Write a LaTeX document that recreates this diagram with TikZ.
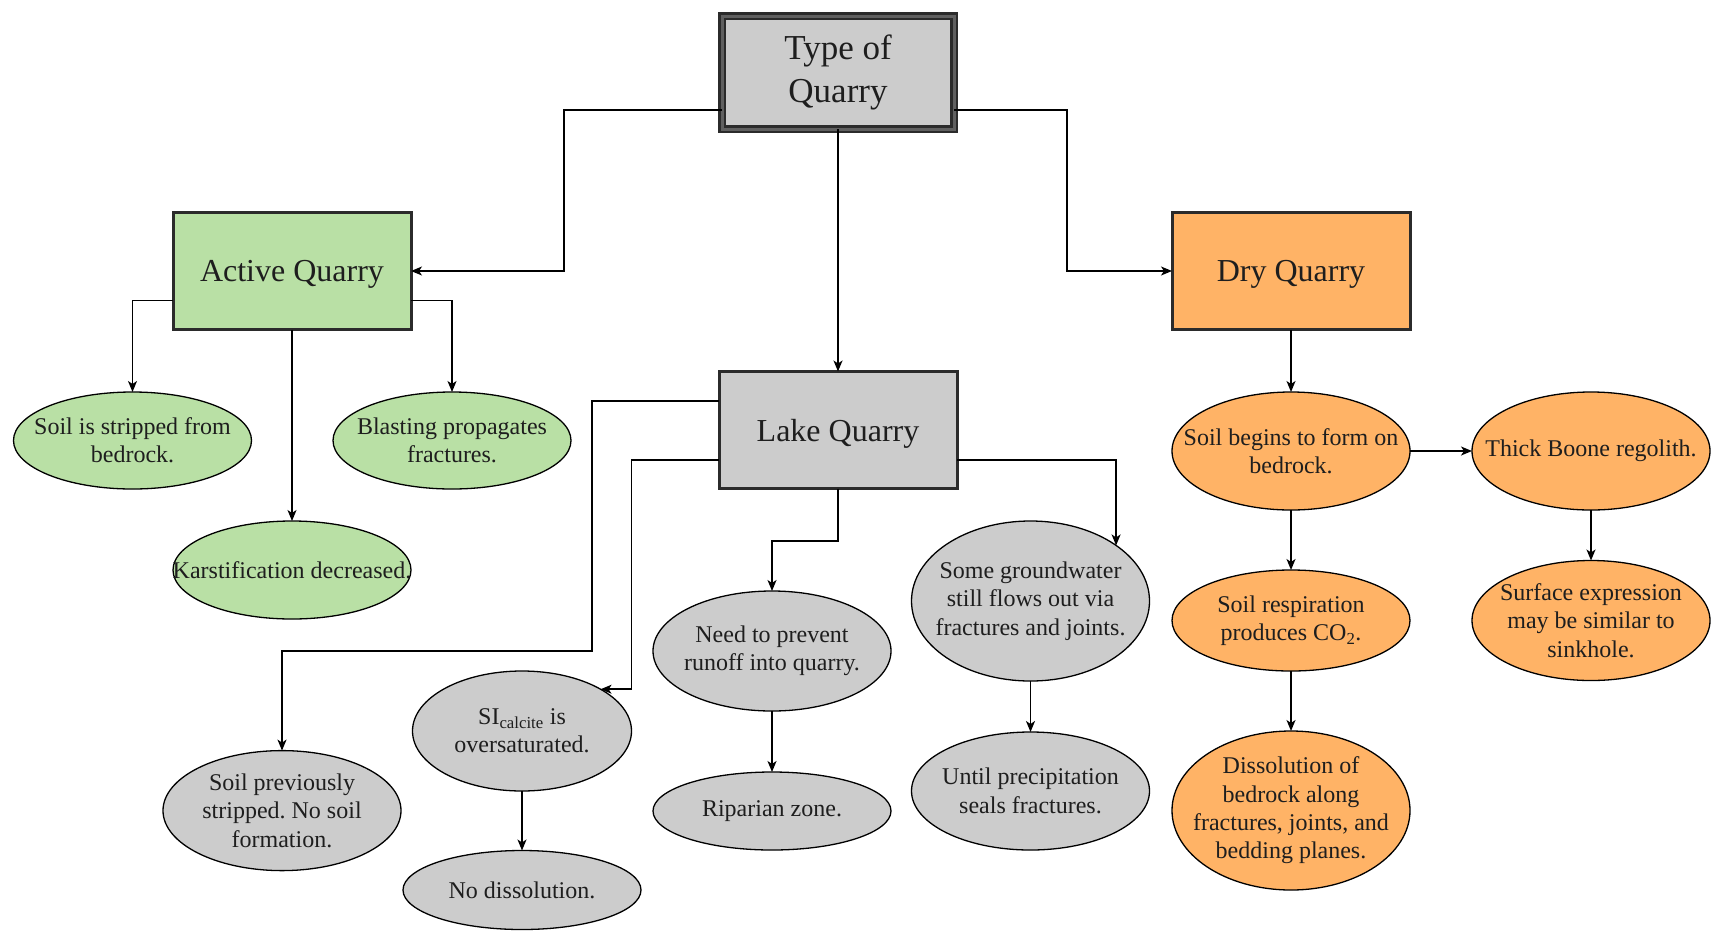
\documentclass[tikz,border=0pt]{standalone}
\usepackage{fontspec}
\setmainfont{Liberation Serif}
\usetikzlibrary{shapes.geometric,arrows.meta}
\definecolor{gfill}{HTML}{B9E0A5}
\definecolor{ofill}{HTML}{FFB366}
\definecolor{rfill}{HTML}{CCCCCC}
\definecolor{bord}{HTML}{2B2B2B}
\definecolor{txtc}{HTML}{1E1E1E}
\frenchspacing
\tikzset{
  lbl/.style={align=center, inner sep=0pt, text=txtc, font=\fontsize{24}{28.4}\selectfont},
  oval/.style={ellipse, draw=black, line width=1.3pt, minimum width=238pt, inner sep=0pt, outer sep=0pt, minimum height=#1},
  ovG/.style={oval=#1, fill=gfill},
  ovO/.style={oval=#1, fill=ofill},
  ovR/.style={oval=#1, fill=rfill},
  box/.style={rectangle, draw=bord, line width=3pt, minimum width=238pt, minimum height=117pt, inner sep=0pt, outer sep=0pt, text=txtc, text depth=0pt, font=\fontsize{32}{38}\selectfont},
  arr/.style={draw=black, line width=1.5pt, -{Stealth[length=11pt,width=9pt,inset=3pt]}},
}
\begin{document}
\begin{tikzpicture}[x=1pt,y=-1pt]
\useasboundingbox (0,0) rectangle (1713,930);
\fill[white] (0,0) rectangle (1713,930);

% main boxes
\node[rectangle, draw=bord, line width=2.5pt, double=gray!75!black, double distance=3pt, fill=rfill,
      minimum width=232pt, minimum height=113pt, inner sep=0pt, outer sep=0pt, align=center, text=txtc,
      font=\fontsize{35}{42.6}\selectfont] (type) at (838,72.5) {\raisebox{-2pt}{Type of}\\\raisebox{-2pt}{Quarry}};
\node[box, fill=gfill] (active) at (292,271) {Active Quarry};
\node[box, fill=ofill] (dry) at (1291,271) {Dry Quarry};
\node[box, fill=rfill] (lake) at (838,430) {Lake Quarry};

% active quarry branch
\node[ovG=97, label={[lbl]center:{Soil is stripped from\\bedrock.}}] (soil1) at (132.5,440.5) {};
\node[ovG=97, label={[lbl]center:{Blasting propagates\\fractures.}}] (blast) at (452,440.5) {};
\node[ovG=98, label={[lbl]center:{Karstification decreased.}}] (karst) at (292,570) {};

% lake quarry branch
\node[ovR=120, label={[lbl]center:{Soil previously\\stripped. No soil\\formation.}}] (soilprev) at (282,810.6) {};
\node[ovR=120, minimum width=219pt, label={[lbl]center:{SI\textsubscript{calcite} is\\oversaturated.}}] (si) at (522,731) {};
\node[ovR=79, label={[lbl]center:{No dissolution.}}] (nodiss) at (522,890) {};
\node[ovR=120, label={[lbl]center:{Need to prevent\\runoff into quarry.}}] (need) at (772,651) {};
\node[ovR=78, label={[lbl]center:{Riparian zone.}}] (rip) at (772,811) {};
\node[ovR=160, label={[lbl]center:{Some groundwater\\still flows out via\\fractures and joints.}}] (gw) at (1030.5,601) {};
\node[ovR=118, label={[lbl]center:{Until precipitation\\seals fractures.}}] (until) at (1030.5,791) {};

% dry quarry branch
\node[ovO=118, label={[lbl]center:{Soil begins to form on\\bedrock.}}] (sbegin) at (1291,451) {};
\node[ovO=118, label={[lbl]center:{Thick Boone regolith.}}] (thick) at (1591,451) {};
\node[ovO=101, label={[lbl]center:{Soil respiration\\produces CO\textsubscript{2}.}}] (resp) at (1291,620.5) {};
\node[ovO=120, label={[lbl]center:{Surface expression\\may be similar to\\sinkhole.}}] (surf) at (1591,620.5) {};
\node[ovO=159, label={[lbl]center:{Dissolution of\\bedrock along\\fractures, joints, and\\bedding planes.}}] (diss) at (1291,810.5) {};

% bend points
\coordinate (b1) at (592,651);

% connectors
\draw[arr] ([yshift=-37.5pt]type.west) -| ([xshift=153pt]active.east) -- (active.east);
\draw[arr] ([yshift=-37.5pt]type.east) -| ([xshift=-105pt]dry.west) -- (dry.west);
\draw[arr] (type.south) -- (lake.north);

\draw[arr] ([yshift=-29.5pt]active.west) -| (soil1.north);
\draw[arr] ([yshift=-29.5pt]active.east) -| (blast.north);
\draw[arr] (active.south) -- (karst.north);

\draw[arr] ([yshift=29pt]lake.west) -| (b1) -| (soilprev.north);
\draw[arr] ([yshift=-30pt]lake.west) -| ([xshift=31pt]si.28) -- (si.28);
\draw[arr] (lake.south) |- ([yshift=50pt]need.north) -- (need.north);
\draw[arr] ([yshift=-30pt]lake.east) -| (gw.33.8);
\draw[arr] (gw.south) -- (until.north);
\draw[arr] (si.south) -- (nodiss.north);
\draw[arr] (need.south) -- (rip.north);

\draw[arr] (dry.south) -- (sbegin.north);
\draw[arr] (sbegin.east) -- (thick.west);
\draw[arr] (sbegin.south) -- (resp.north);
\draw[arr] (resp.south) -- (diss.north);
\draw[arr] (thick.south) -- (surf.north);
\end{tikzpicture}
\end{document}
